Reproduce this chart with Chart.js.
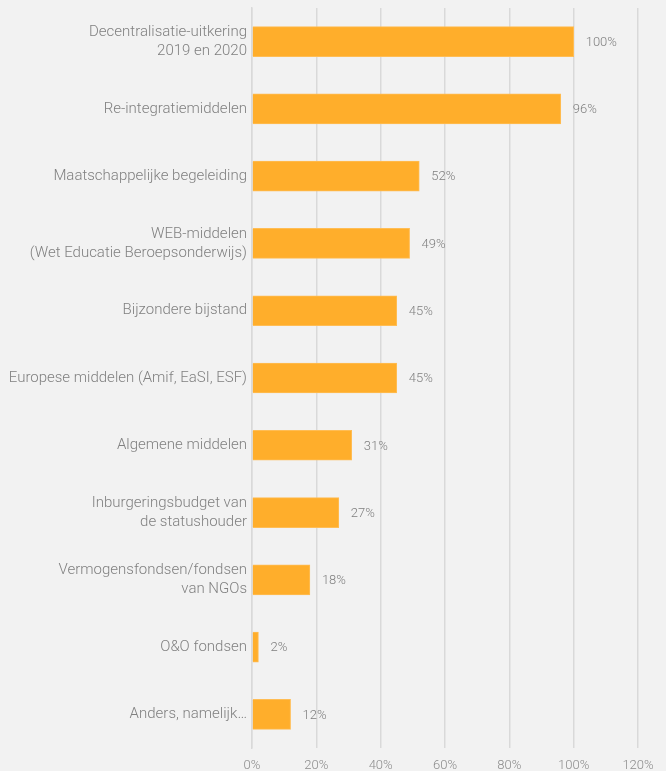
<!DOCTYPE html>
<html>
<head>
<meta charset="utf-8">
<script src="https://cdn.jsdelivr.net/npm/chart.js@4"></script>
<style>
  html, body { margin: 0; padding: 0; background: #f2f2f2; }
  #wrap { width: 666px; height: 771px; position: relative; }
</style>
</head>
<body>
<div id="wrap"><canvas id="grafico"></canvas></div>
<script>
// categorieën (meerregelige labels als arrays)
var categorieen = [
    ["Decentralisatie-uitkering", "2019 en 2020"],
    "Re-integratiemiddelen",
    "Maatschappelijke begeleiding",
    ["WEB-middelen", "(Wet Educatie Beroepsonderwijs)"],
    "Bijzondere bijstand",
    "Europese middelen (Amif, EaSI, ESF)",
    "Algemene middelen",
    ["Inburgeringsbudget van", "de statushouder"],
    ["Vermogensfondsen/fondsen", "van NGOs"],
    "O&O fondsen",
    "Anders, namelijk\u2026"
];
var percentages = [100, 96, 52, 49, 45, 45, 31, 27, 18, 2, 12];
var tickWaarden = [0, 20, 40, 60, 80, 100, 120];

// labels achter de balken
var labelPlugin = {
    id: 'balkLabels',
    afterDatasetsDraw: function (chart) {
        var ctx = chart.ctx;
        var meta = chart.getDatasetMeta(0);
        ctx.save();
        ctx.font = '300 13px Roboto';
        ctx.fillStyle = '#7f7f7f';
        ctx.textBaseline = 'middle';
        ctx.textAlign = 'left';
        meta.data.forEach(function (bar, i) {
            ctx.fillText(percentages[i] + '%', bar.x + 12, bar.y + 1);
        });
        ctx.restore();
    }
};

var achtergrond = {
    id: 'achtergrond',
    beforeDraw: function (chart) {
        var ctx = chart.ctx;
        ctx.save();
        ctx.fillStyle = '#f2f2f2';
        ctx.fillRect(0, 0, chart.width, chart.height);
        ctx.restore();
    }
};

new Chart(document.getElementById('grafico'), {
    type: 'bar',
    data: {
        labels: categorieen,
        datasets: [{
            data: percentages,
            backgroundColor: '#ffae2b',
            borderColor: '#ffbd55',
            borderWidth: 1,
            barThickness: 30
        }]
    },
    options: {
        indexAxis: 'y',
        responsive: true,
        maintainAspectRatio: false,
        animation: false,
        layout: { padding: { top: 8, right: 28, bottom: 0, left: 0 } },
        plugins: {
            legend: { display: false },
            tooltip: { enabled: false }
        },
        scales: {
            x: {
                min: 0,
                max: 120,
                afterBuildTicks: function (scale) {
                    scale.ticks = tickWaarden.map(function (v) { return { value: v }; });
                },
                afterFit: function (scale) { scale.height = 23; },
                grid: { color: '#d9d9d9', lineWidth: 1.5, drawTicks: false },
                border: { display: false },
                ticks: {
                    color: '#8c8c8c',
                    font: { family: 'Roboto', size: 13, weight: '300' },
                    padding: 10,
                    callback: function (v) { return v + '%'; }
                }
            },
            y: {
                grid: { display: false, drawTicks: false },
                border: { display: true, color: '#d9d9d9', width: 1.5 },
                afterFit: function (scale) {
                    scale.width = 252;
                    scale.paddingTop = 0;
                    scale.paddingBottom = 0;
                },
                ticks: {
                    color: '#808080',
                    font: { family: 'Roboto', size: 15, weight: '300', lineHeight: 1.27 },
                    padding: 5
                }
            }
        }
    },
    plugins: [achtergrond, labelPlugin]
});
</script>
</body>
</html>
